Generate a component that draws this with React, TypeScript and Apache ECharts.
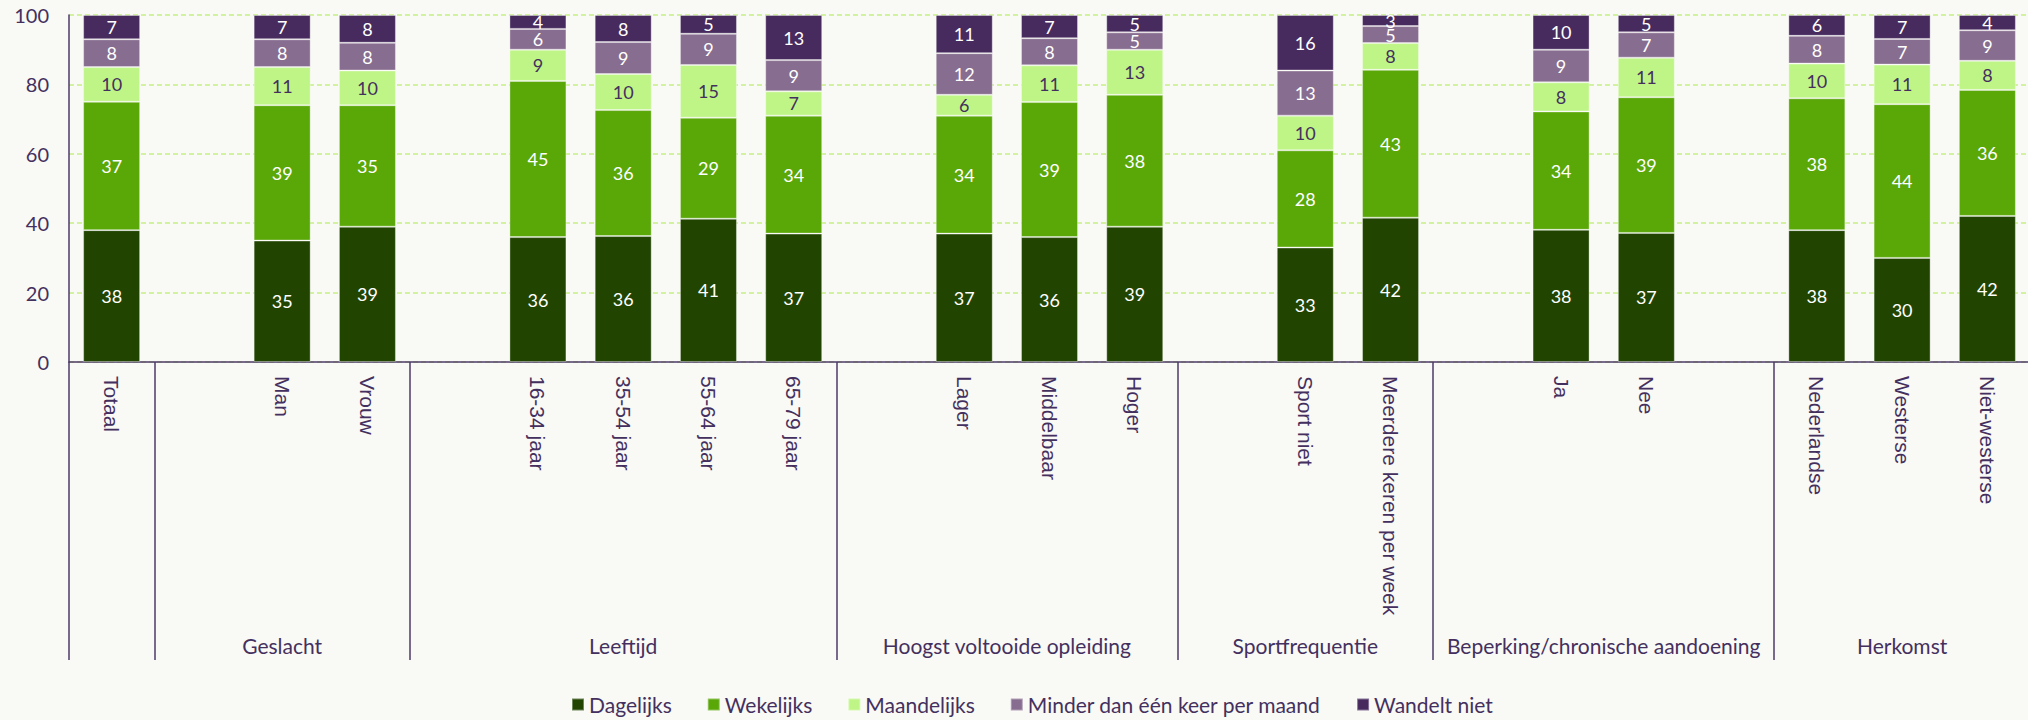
import React, { useEffect, useRef } from 'react';
import * as echarts from 'echarts';

// Category slots (blank strings are the gaps between groups)
const categories = [
  'Totaal', ' ', 'Man', 'Vrouw', '  ', '16-34 jaar', '35-54 jaar', '55-64 jaar', '65-79 jaar', '   ',
  'Lager', 'Middelbaar', 'Hoger', '    ', 'Sport niet', 'Meerdere keren per week', '     ',
  'Ja', 'Nee', '      ', 'Nederlandse', 'Westerse', 'Niet-westerse',
];

// Group headings and the category index where each divider line sits
const groupLabels = ['Geslacht', 'Leeftijd', 'Hoogst voltooide opleiding', 'Sportfrequentie', 'Beperking/chronische aandoening', 'Herkomst'];
const groupDividers = [0, 1, 4, 9, 13, 16, 20];

const seriesNames = ['Dagelijks', 'Wekelijks', 'Maandelijks', 'Minder dan één keer per maand', 'Wandelt niet'];

const dagelijks = [38, null, 35, 39, null, 36, 36.3, 41.3, 37, null, 37, 36.0, 39, null, 33, 41.6, null, 38.1, 37.2, null, 38, 30.0, 42.1];
const wekelijks = [37, null, 39, 35, null, 45, 36.3, 29.1, 34, null, 34, 38.9, 38, null, 28, 42.6, null, 34.1, 39.1, null, 38, 44.3, 36.3];
const maandelijks = [10, null, 11, 10, null, 9, 10.4, 15.2, 7, null, 6, 10.6, 13, null, 10, 7.7, null, 8.4, 11.4, null, 10, 11.4, 8.4];
const minderDanMaand = [8, null, 8, 8, null, 6, 9.2, 9.0, 9, null, 12, 7.8, 5, null, 13, 4.9, null, 9.4, 7.3, null, 8, 7.4, 8.8];
const wandeltNiet = [7, null, 7, 8, null, 4, 7.8, 5.4, 13, null, 11, 6.7, 5, null, 16, 3.2, null, 10.0, 5.0, null, 6, 6.9, 4.4];

const yTicks = { min: 0, max: 100, interval: 20 };

const colors = ['#214500', '#5aa708', '#bff586', '#876d8f', '#472b5e'];
const labelColors = ['#ffffff', '#ffffff', '#44305e', '#ffffff', '#ffffff'];
const TEXT = '#44305e';
const AXIS = '#4d3a68';

export default function App() {
  const ref = useRef<HTMLDivElement>(null);

  useEffect(() => {
    if (!ref.current) return;
    const chart = echarts.init(ref.current, null, { renderer: 'svg' });
    const data = [dagelijks, wekelijks, maandelijks, minderDanMaand, wandeltNiet];
    const nSlots = categories.length;
    const groupCenters: Record<string, string> = {};
    for (let i = 0; i < groupLabels.length; i++) {
      const a = groupDividers[i + 1];
      const b = i + 2 < groupDividers.length ? groupDividers[i + 2] : nSlots;
      groupCenters[String((a + b) / 2)] = groupLabels[i];
    }

    chart.setOption({
      animation: false,
      backgroundColor: '#f9f9f5',
      grid: { left: 69, top: 15, width: 1961, height: 347, containLabel: false, outerBoundsMode: 'none' },
      legend: {
        data: seriesNames,
        left: 571,
        top: 694,
        padding: 0,
        icon: 'rect',
        itemWidth: 12,
        itemHeight: 12,
        itemGap: 35,
        textStyle: { fontFamily: 'Lato', fontSize: 21, lineHeight: 21, color: TEXT },
      },
      xAxis: [
        {
          type: 'category',
          data: categories,
          axisLine: { show: true, lineStyle: { color: AXIS, width: 1.5 } },
          axisTick: {
            show: true,
            length: 298,
            interval: (idx: number) => groupDividers.includes(idx),
            lineStyle: { color: AXIS, width: 1.5 },
          },
          axisLabel: {
            interval: 0,
            rotate: -90,
            margin: 14,
            fontFamily: 'Liberation Sans',
            fontSize: 21,
            color: TEXT,
          },
          splitLine: { show: false },
        },
        {
          type: 'value',
          position: 'bottom',
          min: 0,
          max: nSlots,
          interval: 0.5,
          axisLine: { show: false },
          axisTick: { show: false },
          splitLine: { show: false },
          axisLabel: {
            margin: 273,
            fontFamily: 'Lato',
            fontSize: 21,
            lineHeight: 21,
            color: TEXT,
            showMinLabel: true,
            showMaxLabel: true,
            formatter: (v: number) => groupCenters[String(v)] || '',
          },
        },
      ],
      yAxis: {
        type: 'value',
        min: yTicks.min,
        max: yTicks.max,
        interval: yTicks.interval,
        axisLine: { show: true, lineStyle: { color: AXIS, width: 1.5 } },
        axisTick: { show: false },
        axisLabel: { margin: 20, fontFamily: 'Lato', fontSize: 20, color: TEXT },
        splitLine: { show: true, lineStyle: { color: '#c5ee85', width: 1.5, type: [5, 3] } },
      },
      series: seriesNames.map((name, i) => ({
        name,
        type: 'bar',
        stack: 'total',
        xAxisIndex: 0,
        barWidth: 57,
        data: data[i],
        itemStyle: { color: colors[i], borderColor: 'rgba(255,255,255,0.35)', borderWidth: 1 },
        label: {
          show: true,
          position: 'inside',
          fontFamily: 'Lato',
          fontSize: 18,
          color: labelColors[i],
          formatter: (p: any) => (p.value == null ? '' : String(Math.round(p.value))),
        },
      })),
    });
    return () => chart.dispose();
  }, []);

  return (
    <div
      ref={ref}
      style={{ position: 'fixed', left: 0, top: 0, width: 2028, height: 720 }}
    />
  );
}
